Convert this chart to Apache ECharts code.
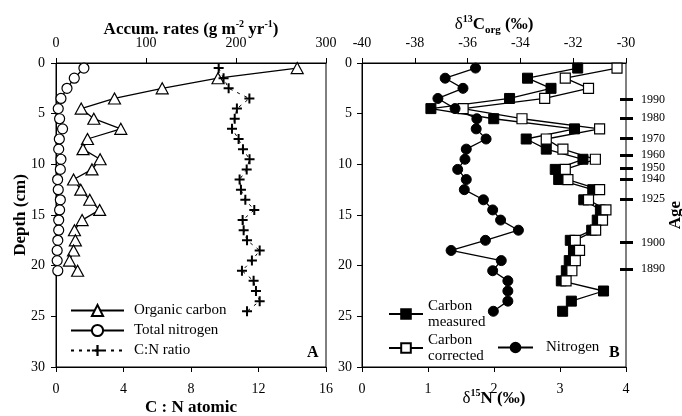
<!DOCTYPE html>
<html>
<head>
<meta charset="utf-8">
<script src="https://cdn.jsdelivr.net/npm/echarts@6/dist/echarts.min.js"></script>
<style>
html, body { margin: 0; padding: 0; background: #fff; }
#chart { width: 682px; height: 416px; }
</style>
</head>
<body>
<div id="chart"></div>
<script>
// depth of each slice (cm)
var depthShort = [0.5, 1.5, 2.5, 3.5, 4.5, 5.5, 6.5, 7.5, 8.5, 9.5, 10.5, 11.5, 12.5, 13.5, 14.5, 15.5, 16.5, 17.5, 18.5, 19.5, 20.5];
var depthCorr = [0.5, 1.5, 2.5, 3.5, 4.5, 5.5, 6.5, 7.5, 8.5, 9.5, 10.5, 11.5, 12.5, 13.5, 14.5, 15.5, 16.5, 17.5, 18.5, 19.5, 20.5, 21.5];
var depthLong = [0.5, 1.5, 2.5, 3.5, 4.5, 5.5, 6.5, 7.5, 8.5, 9.5, 10.5, 11.5, 12.5, 13.5, 14.5, 15.5, 16.5, 17.5, 18.5, 19.5, 20.5, 21.5, 22.5, 23.5, 24.5];

// panel A
var organicCarbon = [268, 180, 118, 65, 28, 42, 72, 35, 30, 49, 40, 19.5, 27.5, 37.5, 48.5, 29, 20.5, 21.5, 19.5, 15, 24];
var totalNitrogen = [31, 20.3, 12.2, 5.5, 2.5, 4, 7.3, 3.7, 3, 5.5, 4.8, 1.8, 2.5, 4.8, 4, 3, 3, 2, 1.3, 1.3, 2];
var cnRatio = [9.64, 9.93, 10.23, 11.46, 10.72, 10.59, 10.43, 10.82, 11.08, 11.47, 11.3, 10.88, 10.96, 11.22, 11.75, 11.06, 11.12, 11.32, 12.07, 11.61, 11.02, 11.71, 11.85, 12.07, 11.32];

// panel B
var carbonMeasured = [-31.83, -33.73, -32.84, -34.41, -37.39, -35.01, -31.95, -33.78, -33.02, -31.63, -32.68, -32.55, -31.26, -31.6, -30.97, -31.09, -31.3, -32.11, -31.99, -32.15, -32.26, -32.45, -30.85, -32.07, -32.4];
var carbonCorrected = [-30.34, -32.3, -31.42, -33.08, -36.17, -33.94, -31.0, -33.02, -32.39, -31.16, -32.3, -32.2, -31.0, -31.42, -30.76, -30.89, -31.15, -31.92, -31.76, -31.92, -32.05, -32.27];
var nitrogen15 = [1.72, 1.26, 1.53, 1.15, 1.41, 1.74, 1.73, 1.88, 1.58, 1.56, 1.45, 1.58, 1.55, 1.84, 1.98, 2.1, 2.37, 1.87, 1.35, 2.11, 1.98, 2.21, 2.21, 2.21, 1.99];

// age scale on right of panel B
var ageDepths = [3.6, 5.45, 7.45, 9.1, 10.35, 11.45, 13.45, 17.7, 20.35];
var ageYears = ['1990', '1980', '1970', '1960', '1950', '1940', '1925', '1900', '1890'];

var FONT = 'Liberation Serif';
var PLUS = 'path://M4,0h2v4h4v2h-4v4h-2v-4h-4v-2h4z';

function pairs(vals, depths) {
    return vals.map(function (v, i) { return [v, depths[i]]; });
}

var axisBase = {
    type: 'value',
    nameMoveOverlap: false,
    axisLine: { show: true, onZero: false, lineStyle: { color: '#000', width: 1 } },
    axisTick: { show: true, inside: false, length: 5, lineStyle: { color: '#000' } },
    axisLabel: { color: '#000', fontFamily: FONT, fontSize: 14 },
    splitLine: { show: false }
};
function ax(o) {
    return echarts.util.merge(echarts.util.clone(axisBase), o, true);
}

var boldName = { color: '#000', fontFamily: FONT, fontSize: 17, fontWeight: 'bold' };
var richName = {
    t: { color: '#000', fontFamily: FONT, fontSize: 17, fontWeight: 'bold', lineHeight: 22 },
    d: { color: '#000', fontFamily: FONT, fontSize: 17, lineHeight: 22 },
    s: { color: '#000', fontFamily: FONT, fontSize: 10, fontWeight: 'bold', verticalAlign: 'top' },
    b: { color: '#000', fontFamily: FONT, fontSize: 11, fontWeight: 'bold', verticalAlign: 'bottom' }
};

var chart = echarts.init(document.getElementById('chart'));
var option = {
    animation: false,
    backgroundColor: '#fff',
    textStyle: { fontFamily: FONT, color: '#000' },
    grid: [
        { left: 56, top: 63, width: 270, height: 304, show: true, borderColor: '#000', borderWidth: 1,
            outerBoundsMode: 'none', containLabel: false },
        { left: 362, top: 63, width: 264, height: 304, show: true, borderColor: '#000', borderWidth: 1,
            outerBoundsMode: 'none', containLabel: false }
    ],
    xAxis: [
        ax({ gridIndex: 0, position: 'top', min: 0, max: 300, interval: 100,
            axisLabel: { margin: 13 },
            name: '{t|Accum. rates (g m}{s|-2}{t| yr}{s|-1}{t|)}', nameLocation: 'middle', nameGap: 22,
            nameTextStyle: { rich: richName } }),
        ax({ gridIndex: 0, position: 'bottom', min: 0, max: 16, interval: 4,
            axisLabel: { margin: 15 },
            name: 'C : N atomic', nameLocation: 'middle', nameGap: 32, nameTextStyle: boldName }),
        ax({ gridIndex: 1, position: 'top', min: -40, max: -30, interval: 2,
            axisLabel: { margin: 13 },
            name: '{d|δ}{s|13}{t|C}{b|org}{t| (‰)}', nameLocation: 'middle', nameGap: 27,
            nameTextStyle: { rich: richName } }),
        ax({ gridIndex: 1, position: 'bottom', min: 0, max: 4, interval: 1,
            axisLabel: { margin: 15 },
            name: '{d|δ}{s|15}{t|N (‰)}', nameLocation: 'middle', nameGap: 21,
            nameTextStyle: { rich: richName } })
    ],
    yAxis: [
        ax({ gridIndex: 0, position: 'left', min: 0, max: 30, interval: 5, inverse: true,
            axisLabel: { margin: 11 },
            name: 'Depth (cm)', nameLocation: 'middle', nameGap: 27, nameTextStyle: boldName }),
        ax({ gridIndex: 1, position: 'left', min: 0, max: 30, interval: 5, inverse: true,
            axisLabel: { margin: 10 } }),
        ax({ gridIndex: 1, position: 'right', offset: -6, min: 0, max: 30, inverse: true,
            axisLine: { show: false },
            axisTick: { length: 13, customValues: ageDepths, lineStyle: { width: 3 } },
            axisLabel: { margin: 21, fontSize: 12, customValues: ageDepths,
                formatter: function (v) { return ageYears[ageDepths.indexOf(v)]; } },
            name: 'Age', nameLocation: 'middle', nameGap: 47, nameTextStyle: boldName })
    ],
    legend: [
        { data: ['Organic carbon', 'Total nitrogen', 'C:N ratio'], orient: 'vertical',
            left: 65, top: 298, itemWidth: 53, itemHeight: 14, itemGap: 5, selectedMode: false,
            textStyle: { fontFamily: FONT, fontSize: 15, color: '#000', padding: [0, 0, 0, 5] } },
        { data: ['Carbon measured', 'Carbon corrected'], orient: 'vertical',
            left: 383, top: 293, itemWidth: 34, itemHeight: 12, itemGap: 2, selectedMode: false,
            formatter: function (n) { return n.replace(' ', '\n'); },
            textStyle: { fontFamily: FONT, fontSize: 15, lineHeight: 16, color: '#000' } },
        { data: ['Nitrogen'], orient: 'vertical',
            left: 492, top: 335, itemWidth: 35, itemHeight: 12, selectedMode: false,
            textStyle: { fontFamily: FONT, fontSize: 15, color: '#000', padding: [0, 0, 0, 8] } }
    ],
    graphic: [
        { type: 'text', left: 307, top: 345, style: { text: 'A', font: 'bold 16px "Liberation Serif"', fill: '#000' } },
        { type: 'text', left: 609, top: 345, style: { text: 'B', font: 'bold 16px "Liberation Serif"', fill: '#000' } }
    ],
    series: [
        { name: 'Organic carbon', type: 'line', xAxisIndex: 0, yAxisIndex: 0,
            data: pairs(organicCarbon, depthShort),
            symbol: 'triangle', symbolSize: [12, 11],
            lineStyle: { color: '#000', width: 1.3 },
            itemStyle: { color: '#fff', borderColor: '#000', borderWidth: 1.2 } },
        { name: 'Total nitrogen', type: 'line', xAxisIndex: 0, yAxisIndex: 0,
            data: pairs(totalNitrogen, depthShort),
            symbol: 'circle', symbolSize: 10,
            lineStyle: { color: '#000', width: 1.3 },
            itemStyle: { color: '#fff', borderColor: '#000', borderWidth: 1.2 } },
        { name: 'C:N ratio', type: 'line', xAxisIndex: 1, yAxisIndex: 0,
            data: pairs(cnRatio, depthLong),
            symbol: PLUS, symbolSize: 10,
            lineStyle: { color: '#000', width: 1, type: [3, 5] },
            itemStyle: { color: '#000', borderWidth: 0 } },
        { name: 'Carbon measured', type: 'line', xAxisIndex: 2, yAxisIndex: 1,
            data: pairs(carbonMeasured, depthLong),
            symbol: 'rect', symbolSize: 10,
            lineStyle: { color: '#000', width: 1.3 },
            itemStyle: { color: '#000', borderColor: '#000', borderWidth: 1 } },
        { name: 'Carbon corrected', type: 'line', xAxisIndex: 2, yAxisIndex: 1,
            data: pairs(carbonCorrected, depthCorr),
            symbol: 'rect', symbolSize: 10,
            lineStyle: { color: '#000', width: 1.3 },
            itemStyle: { color: '#fff', borderColor: '#000', borderWidth: 1.2 } },
        { name: 'Nitrogen', type: 'line', xAxisIndex: 3, yAxisIndex: 1,
            data: pairs(nitrogen15, depthLong),
            symbol: 'circle', symbolSize: 10,
            lineStyle: { color: '#000', width: 1.3 },
            itemStyle: { color: '#000', borderColor: '#000', borderWidth: 1 } }
    ]
};
chart.setOption(option);
</script>
</body>
</html>
